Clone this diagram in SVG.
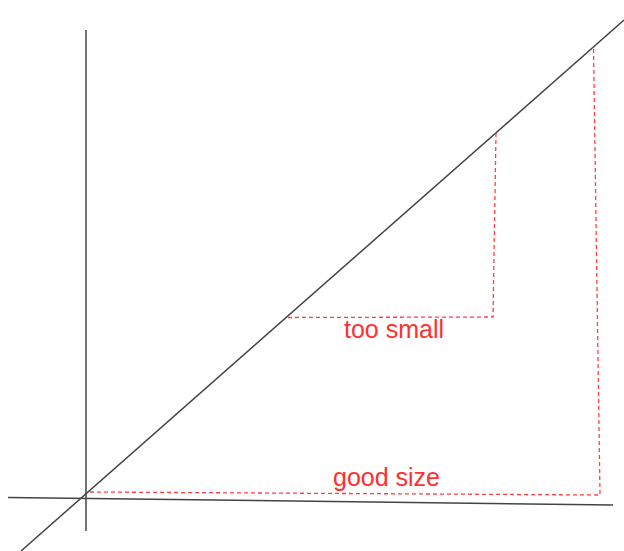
<svg xmlns="http://www.w3.org/2000/svg" width="624" height="551" viewBox="0 0 624 551">
<style>
.axis{stroke:#444;stroke-width:1.5;fill:none}
.dash{stroke:#ff4040;stroke-width:1.3;stroke-dasharray:4 3;fill:none}
.lbl{font-family:"Liberation Sans",Arial,sans-serif;font-size:25px;fill:#ff3030}
</style>
<rect width="624" height="551" fill="#fff"/>
<g id="connectors">
<line class="axis" x1="86" y1="30" x2="86" y2="531"/>
<line class="axis" x1="8" y1="497.5" x2="613" y2="505"/>
<line class="axis" x1="21" y1="551" x2="624" y2="20"/>
<polyline class="dash" points="288,317.5 493,317 496,133"/>
<polyline class="dash" points="90,492 600,495 593.5,48"/>
</g>
<g id="label-too-small"><text class="lbl" x="344" y="338">too small</text></g>
<g id="label-good-size"><text class="lbl" x="333" y="486">good size</text></g>
</svg>
